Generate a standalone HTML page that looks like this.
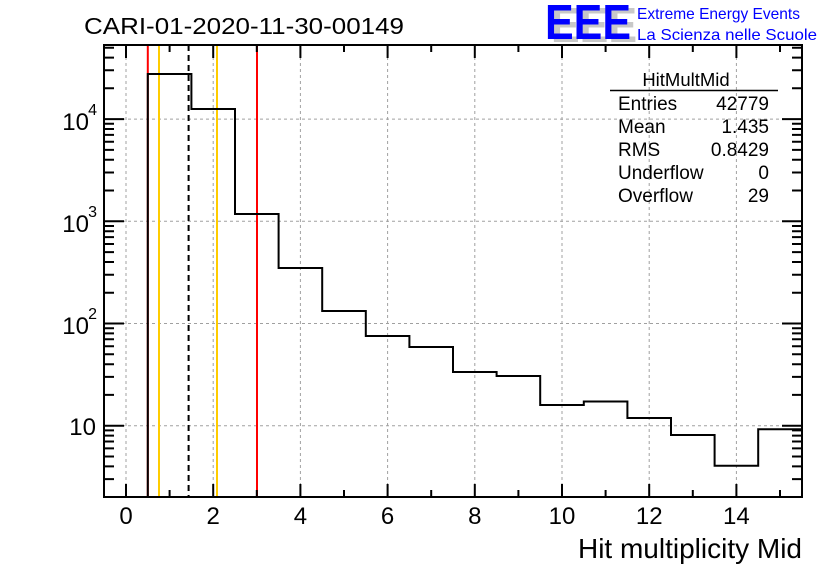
<!DOCTYPE html>
<html><head><meta charset="utf-8"><style>
html,body{margin:0;padding:0;background:#fff;}
svg{display:block;font-family:"Liberation Sans",Arial,sans-serif;}
</style></head><body>
<svg width="836" height="572" viewBox="0 0 836 572" xmlns="http://www.w3.org/2000/svg">
<rect width="836" height="572" fill="#fff"/>
<g stroke="#a0a0a0" stroke-width="1" stroke-dasharray="3,3">
<line x1="126" y1="45" x2="126" y2="497"/>
<line x1="213.2" y1="45" x2="213.2" y2="497"/>
<line x1="300.4" y1="45" x2="300.4" y2="497"/>
<line x1="387.6" y1="45" x2="387.6" y2="497"/>
<line x1="474.8" y1="45" x2="474.8" y2="497"/>
<line x1="562" y1="45" x2="562" y2="497"/>
<line x1="649.2" y1="45" x2="649.2" y2="497"/>
<line x1="736.4" y1="45" x2="736.4" y2="497"/>
<line x1="104" y1="425.7" x2="802" y2="425.7"/>
<line x1="104" y1="323.5" x2="802" y2="323.5"/>
<line x1="104" y1="221.3" x2="802" y2="221.3"/>
<line x1="104" y1="119.1" x2="802" y2="119.1"/>
</g>
<line x1="147.8" y1="45" x2="147.8" y2="497" stroke="#ff0000" stroke-width="2"/>
<line x1="257" y1="45" x2="257" y2="497" stroke="#ff0000" stroke-width="2"/>
<line x1="159" y1="45" x2="159" y2="497" stroke="#ffcc00" stroke-width="2"/>
<line x1="217" y1="45" x2="217" y2="497" stroke="#ffcc00" stroke-width="2"/>
<line x1="188.6" y1="45" x2="188.6" y2="497" stroke="#000" stroke-width="2" stroke-dasharray="6,4"/>
<path d="M147.8 497 V74 H191.4 V109 H235 V214 H278.6 V268 H322.2 V311 H365.8 V336 H409.4 V347 H453 V372 H496.6 V376 H540.2 V405 H583.8 V401.5 H627.4 V418 H671 V435 H714.6 V465.7 H758.2 V429.3 H801.8" fill="none" stroke="#000" stroke-width="2"/>
<rect x="104" y="45" width="698" height="452" fill="none" stroke="#000" stroke-width="2"/>
<g stroke="#000" stroke-width="2">
<path d="M126 497v-13M213.2 497v-13M300.4 497v-13M387.6 497v-13M474.8 497v-13M562 497v-13M649.2 497v-13M736.4 497v-13
M126 45v13M213.2 45v13M300.4 45v13M387.6 45v13M474.8 45v13M562 45v13M649.2 45v13M736.4 45v13
M169.6 497v-7M256.8 497v-7M344 497v-7M431.2 497v-7M518.4 497v-7M605.6 497v-7M692.8 497v-7M780 497v-7
M169.6 45v7M256.8 45v7M344 45v7M431.2 45v7M518.4 45v7M605.6 45v7M692.8 45v7M780 45v7"/>
<path d="M104 425.7h20M104 323.5h20M104 221.3h20M104 119.1h20M802 425.7h-20M802 323.5h-20M802 221.3h-20M802 119.1h-20"/>
<path d="M104 479.1h10M104 466.4h10M104 456.5h10M104 448.4h10M104 441.5h10M104 435.6h10M104 430.4h10
M104 394.9h10M104 376.9h10M104 364.2h10M104 354.3h10M104 346.2h10M104 339.3h10M104 333.4h10M104 328.2h10
M104 292.7h10M104 274.7h10M104 262h10M104 252.1h10M104 244h10M104 237.1h10M104 231.2h10M104 226h10
M104 190.5h10M104 172.5h10M104 159.8h10M104 149.9h10M104 141.8h10M104 134.9h10M104 129h10M104 123.8h10
M104 88.3h10M104 70.3h10M104 57.6h10M104 47.7h10
M802 479.1h-10M802 466.4h-10M802 456.5h-10M802 448.4h-10M802 441.5h-10M802 435.6h-10M802 430.4h-10
M802 394.9h-10M802 376.9h-10M802 364.2h-10M802 354.3h-10M802 346.2h-10M802 339.3h-10M802 333.4h-10M802 328.2h-10
M802 292.7h-10M802 274.7h-10M802 262h-10M802 252.1h-10M802 244h-10M802 237.1h-10M802 231.2h-10M802 226h-10
M802 190.5h-10M802 172.5h-10M802 159.8h-10M802 149.9h-10M802 141.8h-10M802 134.9h-10M802 129h-10M802 123.8h-10
M802 88.3h-10M802 70.3h-10M802 57.6h-10M802 47.7h-10"/>
</g>
<g font-size="24" text-anchor="middle" fill="#000">
<text x="126" y="524">0</text><text x="213.2" y="524">2</text><text x="300.4" y="524">4</text><text x="387.6" y="524">6</text>
<text x="474.8" y="524">8</text><text x="562" y="524">10</text><text x="649.2" y="524">12</text><text x="736.4" y="524">14</text>
</g>
<g font-size="24" text-anchor="end" fill="#000">
<text x="96" y="435">10</text>
<text x="89" y="334">10</text><text x="97" y="319" font-size="16">2</text>
<text x="89" y="232">10</text><text x="97" y="217" font-size="16">3</text>
<text x="89" y="130">10</text><text x="97" y="115" font-size="16">4</text>
</g>
<text x="802" y="558" font-size="28" text-anchor="end">Hit multiplicity Mid</text>
<text x="84" y="34" font-size="23" textLength="320" lengthAdjust="spacingAndGlyphs">CARI-01-2020-11-30-00149</text>
<text x="686" y="86" font-size="18.5" text-anchor="middle">HitMultMid</text>
<line x1="610" y1="90.5" x2="778" y2="90.5" stroke="#000" stroke-width="1.5"/>
<g font-size="19">
<text x="618" y="110">Entries</text><text x="769" y="110" text-anchor="end">42779</text>
<text x="618" y="133">Mean</text><text x="769" y="133" text-anchor="end">1.435</text>
<text x="618" y="156">RMS</text><text x="769" y="156" text-anchor="end">0.8429</text>
<text x="618" y="179">Underflow</text><text x="769" y="179" text-anchor="end">0</text>
<text x="618" y="202">Overflow</text><text x="769" y="202" text-anchor="end">29</text>
</g>
<text x="551" y="42" font-size="49" font-weight="bold" fill="#c8c8c8" textLength="86" lengthAdjust="spacingAndGlyphs">EEE</text>
<text x="545" y="39" font-size="49" font-weight="bold" fill="#0000ff" textLength="86" lengthAdjust="spacingAndGlyphs">EEE</text>
<text x="637" y="19" font-size="16" fill="#0000ff" textLength="163" lengthAdjust="spacingAndGlyphs">Extreme Energy Events</text>
<text x="637" y="40" font-size="16" fill="#0000ff" textLength="180" lengthAdjust="spacingAndGlyphs">La Scienza nelle Scuole</text>
</svg>
</body></html>
